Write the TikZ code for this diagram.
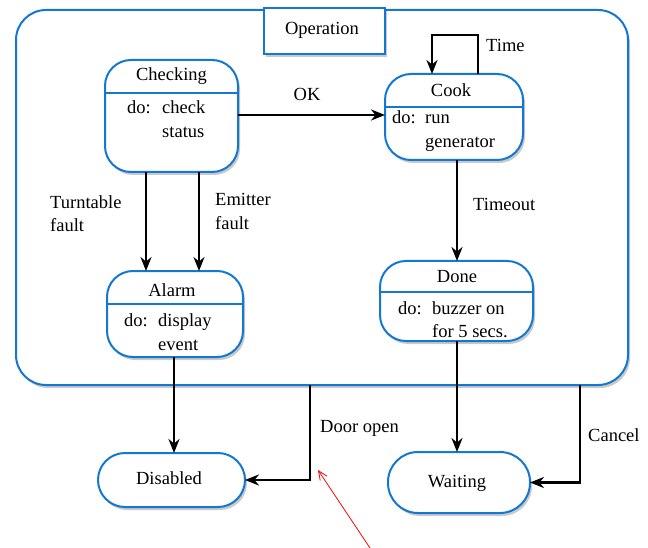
\documentclass[tikz,border=0pt]{standalone}
\usepackage{fontspec}
\setmainfont{Liberation Serif}
\usetikzlibrary{arrows.meta,shadows}
\definecolor{uml}{RGB}{20,120,210}
\tikzset{
  shd/.style={drop shadow={shadow xshift=2pt,shadow yshift=-3pt,fill=black!35,opacity=0.6}},
  statebox/.style={draw=uml,line width=2pt,fill=white,rounded corners=26pt,inner sep=0pt,outer sep=0pt,shd},
  pill/.style={draw=uml,line width=2pt,fill=white,rounded corners=27pt,inner sep=0pt,outer sep=0pt,shd},
  divider/.style={draw=uml,line width=2pt},
  txt/.style={font=\fontsize{18.5}{22}\selectfont,inner sep=0pt,anchor=base west},
  ctxt/.style={font=\fontsize{18.5}{22}\selectfont,inner sep=0pt,anchor=base},
  arr/.style={line width=2.4pt,-{Stealth[length=14pt,width=11pt]}},
}
\begin{document}
\begin{tikzpicture}[x=1pt,y=-1pt]
\useasboundingbox (0,0) rectangle (648,548);
% outer composite state
\node[draw=uml,line width=2pt,fill=white,rounded corners=30pt,minimum width=612pt,minimum height=375pt,inner sep=0pt,outer sep=0pt,shd] (op) at (322,197.5) {};
\node[draw=uml,line width=2pt,fill=white,minimum width=121pt,minimum height=46pt,inner sep=0pt,shd] (oplabel) at (324.5,31) {};
\node[ctxt] (optext) at (322,35) {Operation};

% Checking
\node[statebox,minimum width=133pt,minimum height=112pt] (checking) at (171.5,116) {};
\draw[divider] (105,93) -- (238,93);
\node[ctxt] (checkingt) at (171.5,81) {Checking};
\node[txt] (c1) at (127,114) {do:};
\node[txt] (c2) at (162,114) {check};
\node[txt] (c3) at (162,138) {status};

% Cook
\node[statebox,minimum width=138pt,minimum height=86pt] (cook) at (454,117) {};
\draw[divider] (385,107) -- (523,107);
\node[ctxt] (cookt) at (451,97) {Cook};
\node[txt] (k1) at (392,124) {do:};
\node[txt] (k2) at (425,124) {run};
\node[txt] (k3) at (425,148) {generator};

% Alarm
\node[statebox,minimum width=136pt,minimum height=86pt] (alarm) at (175,314) {};
\draw[divider] (107,304) -- (243,304);
\node[ctxt] (alarmt) at (172,296) {Alarm};
\node[txt] (a1) at (124,326) {do:};
\node[txt] (a2) at (158,326) {display};
\node[txt] (a3) at (158,350) {event};

% Done
\node[statebox,minimum width=153pt,minimum height=80pt] (done) at (456.5,301) {};
\draw[divider] (380,292) -- (533,292);
\node[ctxt] (donet) at (457,282) {Done};
\node[txt] (d1) at (398,314) {do:};
\node[txt] (d2) at (432,314) {buzzer on};
\node[txt] (d3) at (432,337) {for 5 secs.};

% Disabled and Waiting
\node[pill,minimum width=147pt,minimum height=54pt] (disabled) at (171.5,480) {};
\node[ctxt] (disabledt) at (169,484) {Disabled};
\node[pill,minimum width=142pt,minimum height=61pt,rounded corners=30pt] (waiting) at (459,482.5) {};
\node[ctxt] (waitingt) at (457,487) {Waiting};

% transitions
\draw[arr] (checking.east |- 0,115) -- (cook.west |- 0,115);
\node[ctxt] (ok) at (307,101) {OK};

\coordinate (tl) at (432,35);
\coordinate (tr) at (478,35);
\draw[arr] (cook.north -| tr) -- (tr) -- (tl) -- (cook.north -| tl);
\node[txt] (time) at (486,52) {Time};

\coordinate (f1) at (146,0);
\coordinate (f2) at (199,0);
\draw[arr] (checking.south -| f1) -- (alarm.north -| f1);
\draw[arr] (checking.south -| f2) -- (alarm.north -| f2);
\node[txt] (tf1) at (50,209) {Turntable};
\node[txt] (tf2) at (50,232) {fault};
\node[txt] (ef1) at (215,206) {Emitter};
\node[txt] (ef2) at (215,230) {fault};

\coordinate (cd) at (457,0);
\draw[arr] (cook.south -| cd) -- (done.north -| cd);
\node[txt] (timeout) at (473,211) {Timeout};

\coordinate (ad) at (174,0);
\draw[arr] (alarm.south -| ad) -- (disabled.north -| ad);
\draw[arr] (done.south -| cd) -- (waiting.north -| cd);

\coordinate (door) at (310,480);
\draw[arr] (op.south -| door) |- (disabled.east);
\node[txt] (dooropen) at (320,432) {Door open};

\coordinate (cancel) at (580,482.5);
\draw[arr] (op.south -| cancel) |- (waiting.east);
\node[txt] (cancelt) at (588,441) {Cancel};

% red pointer
\coordinate (rs) at (370,548);
\coordinate (re) at (318,470);
\draw[red,line width=0.8pt,-{Straight Barb[length=9pt,width=8pt]}] (rs) -- (re);
\end{tikzpicture}
\end{document}
